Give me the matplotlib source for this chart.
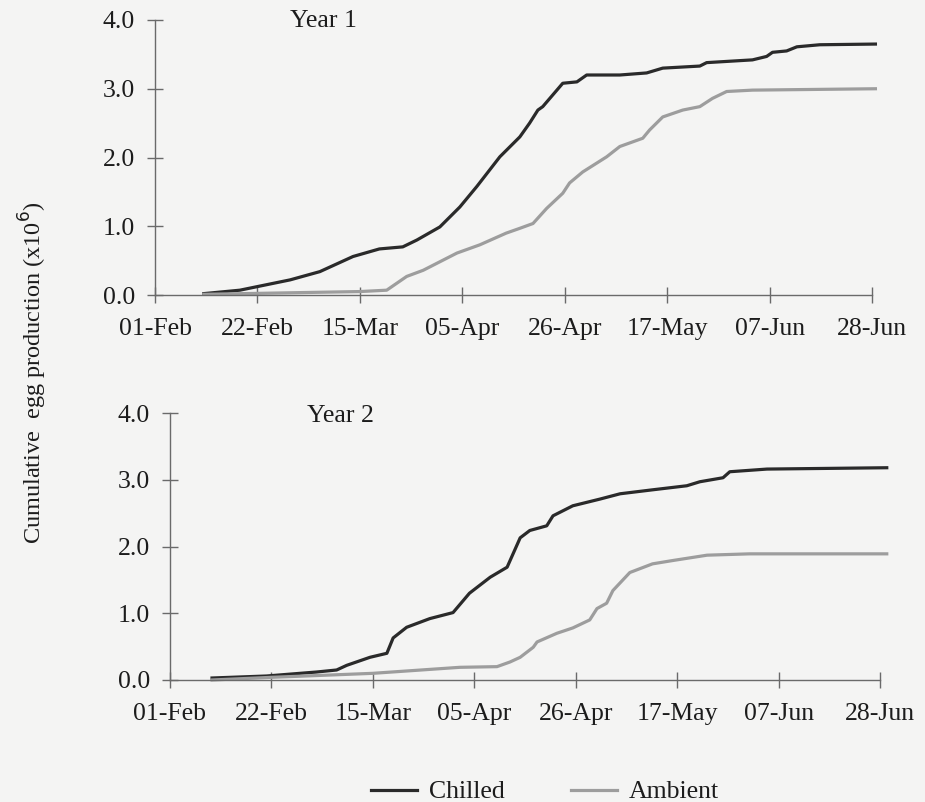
import matplotlib
matplotlib.use("Agg")
import matplotlib.pyplot as plt

plt.rcParams['font.family'] = ['Liberation Serif', 'DejaVu Serif']

# Days since 01-Feb and cumulative egg production (x10^6)
y1_chilled_day = [10, 17.4, 27.7, 33.8, 40.6, 46, 50.8, 53.7, 58.4, 62.5, 66, 70.7,
                  74.8, 76.8, 78.5, 79.5, 83.6, 86.5, 88.5, 95.3, 100.8, 104.1,
                  111.7, 113.1, 122.5, 125.4, 126.6, 129.5, 131.6, 136.3, 147.7]
y1_chilled_val = [0.02, 0.07, 0.22, 0.34, 0.56, 0.67, 0.70, 0.80, 0.99, 1.28, 1.58, 2.01,
                  2.30, 2.50, 2.69, 2.74, 3.08, 3.10, 3.20, 3.20, 3.23, 3.30,
                  3.33, 3.38, 3.42, 3.47, 3.53, 3.55, 3.61, 3.64, 3.65]

y1_ambient_day = [10, 42, 47.5, 51.6, 55, 61.9, 66.6, 72, 74.8, 77.5, 80.3, 83.6,
                  85, 87.7, 92.6, 95.3, 100, 101.4, 104.1, 108.2, 111.7, 114.3,
                  117.2, 122.5, 147.7]
y1_ambient_val = [0.01, 0.05, 0.07, 0.27, 0.36, 0.61, 0.73, 0.90, 0.97, 1.04, 1.26, 1.48,
                  1.63, 1.79, 2.01, 2.16, 2.28, 2.40, 2.59, 2.69, 2.74, 2.86,
                  2.96, 2.98, 3.00]

y2_chilled_day = [8.7, 20, 30.4, 34.5, 36.6, 41.4, 44.9, 46.2, 49, 53.8, 58.6, 62,
                  66.3, 69.8, 72.5, 74.5, 78, 79.3, 83.4, 89, 93.2, 100,
                  107, 109.7, 114.5, 115.9, 123.6, 148.4]
y2_chilled_val = [0.03, 0.06, 0.12, 0.15, 0.22, 0.34, 0.40, 0.63, 0.79, 0.92, 1.01, 1.30,
                  1.54, 1.69, 2.13, 2.24, 2.31, 2.46, 2.61, 2.71, 2.79, 2.85,
                  2.91, 2.97, 3.03, 3.12, 3.16, 3.18]

y2_ambient_day = [8.7, 21, 42, 60, 67.7, 70.4, 72.5, 75.2, 76, 80.1, 83.4, 86.9,
                  88.4, 90.4, 91.7, 95.2, 99.9, 104.1, 111.2, 120, 148.4]
y2_ambient_val = [0.00, 0.04, 0.10, 0.19, 0.20, 0.27, 0.34, 0.49, 0.57, 0.70, 0.78, 0.90,
                  1.07, 1.15, 1.34, 1.61, 1.74, 1.79, 1.87, 1.89, 1.89]

tick_days = [0, 21, 42, 63, 84, 105, 126, 147]
tick_labels = ['01-Feb', '22-Feb', '15-Mar', '05-Apr', '26-Apr', '17-May', '07-Jun', '28-Jun']
y_ticks = [0.0, 1.0, 2.0, 3.0, 4.0]

panels = [
    ("Year 1", y1_chilled_day, y1_chilled_val, y1_ambient_day, y1_ambient_val,
     [155/925, 1 - 295/802, 717/925, 275/802], (34.6, 3.99)),
    ("Year 2", y2_chilled_day, y2_chilled_val, y2_ambient_day, y2_ambient_val,
     [170/925, 1 - 680/802, 710/925, 267/802], (35.2, 3.96)),
]

bg = '#f4f4f3'
chilled_col = '#2a2a2a'
ambient_col = '#9d9d9d'
axis_col = '#6a6a6a'
text_col = '#1c1c1c'
fs = 18.5

fig = plt.figure(figsize=(9.25, 8.02), dpi=100, facecolor=bg)

for title, cd, cv, ad, av, rect, title_xy in panels:
    ax = fig.add_axes(rect)
    ax.set_facecolor(bg)
    ax.plot(cd, cv, color=chilled_col, lw=2.3, label='Chilled', solid_joinstyle='round',
            clip_on=False)
    ax.plot(ad, av, color=ambient_col, lw=2.3, label='Ambient', solid_joinstyle='round',
            clip_on=False)
    ax.set_xlim(0, 147)
    ax.set_ylim(0, 4)
    ax.set_xticks(tick_days)
    ax.set_xticklabels(tick_labels)
    ax.set_yticks(y_ticks)
    ax.set_yticklabels([f"{v:.1f}" for v in y_ticks])
    for s in ('top', 'right'):
        ax.spines[s].set_visible(False)
    for s in ('left', 'bottom'):
        ax.spines[s].set_color(axis_col)
        ax.spines[s].set_linewidth(1.0)
    ax.tick_params(axis='both', direction='inout', length=11, width=1.0,
                   color=axis_col, labelsize=fs, labelcolor=text_col)
    ax.tick_params(axis='x', pad=11)
    ax.tick_params(axis='y', pad=9)
    ax.text(title_xy[0], title_xy[1], title, ha='center', va='center', fontsize=fs,
            color=text_col)

fig.text(33/925, 1 - 373/802, 'Cumulative  egg production (x10$^{6}$)', rotation=90,
         ha='center', va='center', fontsize=17.5, color=text_col)

handles, labels = fig.axes[0].get_legend_handles_labels()
fig.legend(handles, labels, loc='center', bbox_to_anchor=(545/925, 1 - 792/802), ncol=2,
           frameon=False, fontsize=fs, handlelength=1.8, handletextpad=0.45,
           columnspacing=2.6, labelcolor=text_col)

fig.savefig('out.png', dpi=100, facecolor=bg)
